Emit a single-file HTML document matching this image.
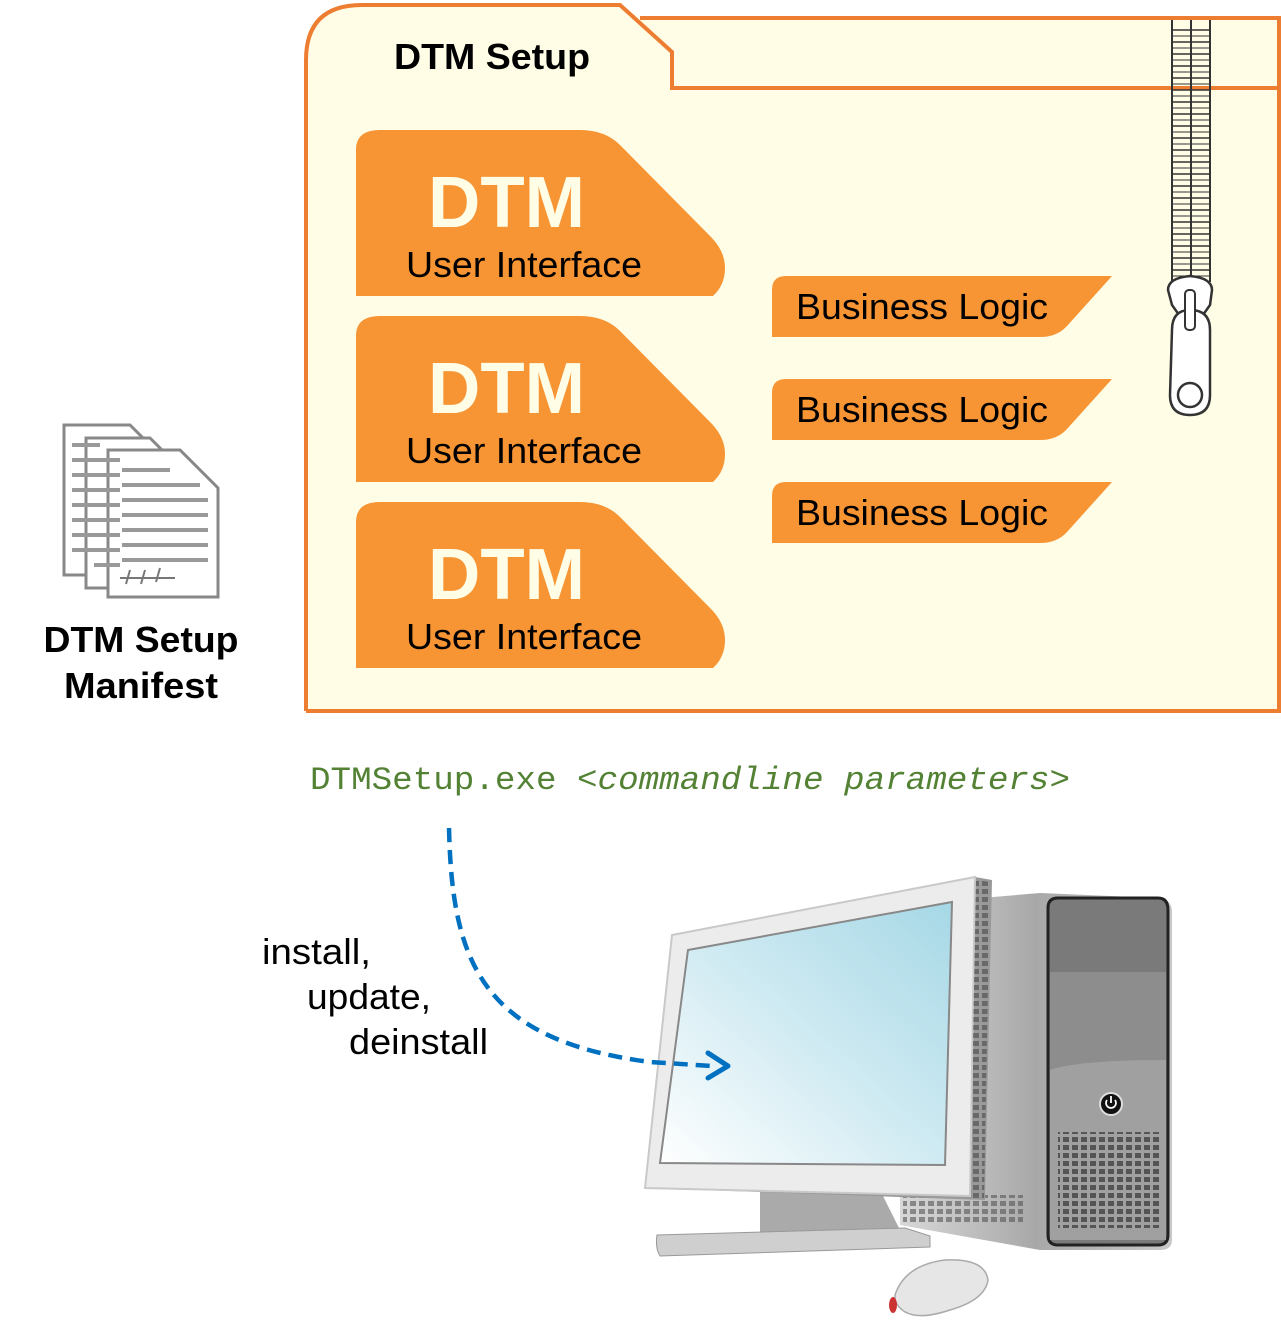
<!DOCTYPE html>
<html><head><meta charset="utf-8"><style>
html,body{margin:0;padding:0;background:#fff;}
svg{display:block}
text{font-family:"Liberation Sans",Arial,sans-serif}
</style></head><body>
<svg width="1281" height="1324" viewBox="0 0 1281 1324" xmlns="http://www.w3.org/2000/svg">
<defs>
<linearGradient id="scr" x1="0" y1="1" x2="1" y2="0"><stop offset="0" stop-color="#ffffff"/><stop offset="0.5" stop-color="#cfeaf2"/><stop offset="1" stop-color="#a6d8e6"/></linearGradient>
<linearGradient id="tow" x1="0" y1="0" x2="1" y2="0"><stop offset="0" stop-color="#d8d8d8"/><stop offset="0.5" stop-color="#a8a8a8"/><stop offset="1" stop-color="#c8c8c8"/></linearGradient>
<pattern id="holes" width="9" height="8" patternUnits="userSpaceOnUse"><rect x="1" y="1" width="6" height="5" fill="#555"/></pattern>
</defs>
<!-- folder -->
<path d="M306,711 L306,60 Q306,5 362,5 L620,5 L640,18 L1279,18 L1279,711 Z" fill="#fffde6" stroke="none"/>
<path d="M306,711 L306,60 Q306,5 362,5 L620,5 L672,52 L672,88 L1279,88" fill="none" stroke="#ed7d31" stroke-width="4"/>
<path d="M640,18 L1279,18 L1279,711 L306,711" fill="none" stroke="#ed7d31" stroke-width="4"/>
<text x="394" y="69" font-size="36" font-weight="bold" fill="#000" textLength="196" lengthAdjust="spacingAndGlyphs">DTM Setup</text>

<!-- UI shapes -->
<g id="ui">
<path d="M356,296 L356,150 Q356,130 380,130 L580,130 Q605,130 620,145 L712,238 Q725,252 725,268 Q725,285 713,296 Z" fill="#f79433"/>
<text x="428" y="227" font-size="72" font-weight="bold" fill="#fffde6" textLength="157" lengthAdjust="spacingAndGlyphs">DTM</text>
<text x="406" y="277" font-size="36" fill="#000" textLength="236" lengthAdjust="spacingAndGlyphs">User Interface</text>
</g>
<use href="#ui" y="186"/>
<use href="#ui" y="372"/>

<!-- Business logic -->
<g id="bl">
<path d="M772,337 L772,290 Q772,276 786,276 L1112,276 L1067,326 Q1057,337 1040,337 Z" fill="#f79433"/>
<text x="796" y="319" font-size="36" fill="#000" textLength="252" lengthAdjust="spacingAndGlyphs">Business Logic</text>
</g>
<use href="#bl" y="103"/>
<use href="#bl" y="206"/>

<!-- zipper -->
<g fill="none" stroke="#333" stroke-width="2">
<path d="M1172,20 V282 M1210,20 V282 M1191,20 V282"/>
<path d="M1172,30 H1210 M1172,42 H1210 M1172,54 H1210 M1172,66 H1210 M1172,78 H1210 M1172,90 H1210 M1172,102 H1210 M1172,114 H1210 M1172,126 H1210 M1172,138 H1210 M1172,150 H1210 M1172,162 H1210 M1172,174 H1210 M1172,186 H1210 M1172,198 H1210 M1172,210 H1210 M1172,222 H1210 M1172,234 H1210 M1172,246 H1210 M1172,258 H1210 M1172,270 H1210" stroke-width="1.5"/>
<path d="M1172,36 H1210 M1172,48 H1210 M1172,60 H1210 M1172,72 H1210 M1172,84 H1210 M1172,96 H1210 M1172,108 H1210 M1172,120 H1210 M1172,132 H1210 M1172,144 H1210 M1172,156 H1210 M1172,168 H1210 M1172,180 H1210 M1172,192 H1210 M1172,204 H1210 M1172,216 H1210 M1172,228 H1210 M1172,240 H1210 M1172,252 H1210 M1172,264 H1210 M1172,276 H1210" stroke-width="1"/>
</g>
<path d="M1168,290 Q1168,278 1190,276 Q1212,278 1212,290 L1210,305 L1198,322 L1184,322 L1172,305 Z" fill="#fff" stroke="#333" stroke-width="2.5"/>
<path d="M1172,330 Q1172,310 1190,310 Q1210,310 1210,330 L1210,395 Q1210,415 1190,415 Q1170,415 1170,395 Z" fill="#fff" stroke="#333" stroke-width="2.5"/>
<circle cx="1190" cy="395" r="12" fill="#fff" stroke="#333" stroke-width="2.5"/>
<rect x="1185" y="290" width="10" height="40" rx="4" fill="#fff" stroke="#333" stroke-width="2"/>

<!-- manifest icon -->
<g fill="#fff" stroke="#888" stroke-width="3">
<path d="M64,425 L130,425 L150,445 L150,575 L64,575 Z"/>
<path d="M86,438 L150,438 L170,458 L170,588 L86,588 Z"/>
<path d="M108,450 L180,450 L218,488 L218,597 L108,597 Z"/>
</g>
<g stroke="#999" stroke-width="4">
<path d="M72,445 H100 M72,460 H100 M72,475 H100 M72,490 H100 M72,505 H100 M72,520 H100 M72,535 H100 M72,550 H100"/>
<path d="M94,460 H120 M94,475 H120 M94,490 H120 M94,505 H120 M94,520 H120 M94,535 H120 M94,550 H120 M94,565 H120"/>
<path d="M122,470 H170 M122,485 H200 M122,500 H208 M122,515 H208 M122,530 H208 M122,545 H208 M122,560 H208"/>
</g>
<path d="M120,578 H175 M130,570 l-4,14 M145,570 l-4,14 M160,568 l-4,14" stroke="#777" stroke-width="2" fill="none"/>
<text x="141" y="652" font-size="36" font-weight="bold" text-anchor="middle" textLength="195" lengthAdjust="spacingAndGlyphs">DTM Setup</text>
<text x="141" y="698" font-size="36" font-weight="bold" text-anchor="middle" textLength="154" lengthAdjust="spacingAndGlyphs">Manifest</text>

<!-- command -->
<text x="310" y="789" font-size="32" fill="#548235" style="font-family:'Liberation Mono',monospace" textLength="760" lengthAdjust="spacingAndGlyphs">DTMSetup.exe <tspan font-style="italic">&lt;commandline parameters&gt;</tspan></text>

<!-- labels -->
<text x="262" y="964" font-size="36" textLength="109" lengthAdjust="spacingAndGlyphs">install,</text>
<text x="307" y="1009" font-size="36" textLength="124" lengthAdjust="spacingAndGlyphs">update,</text>
<text x="349" y="1054" font-size="36" textLength="139" lengthAdjust="spacingAndGlyphs">deinstall</text>

<!-- computer tower -->
<path d="M900,905 L1040,893 L1160,898 Q1172,900 1172,912 L1172,1240 Q1172,1250 1160,1250 L1040,1250 L900,1225 Z" fill="url(#tow)"/>
<rect x="903" y="1195" width="120" height="30" fill="url(#holes)" opacity="0.6"/>
<path d="M1048,908 Q1048,898 1058,898 L1158,898 Q1168,898 1168,910 L1168,1235 Q1168,1245 1158,1245 L1058,1245 Q1048,1245 1048,1235 Z" fill="#7a7a7a" stroke="#222" stroke-width="3"/>
<path d="M1050,972 L1166,972 L1166,1062 L1050,1070 Z" fill="#8d8d8d"/>
<path d="M1050,1070 Q1080,1060 1166,1060 L1166,1240 L1050,1240 Z" fill="#a0a0a0"/>
<rect x="1058" y="1132" width="104" height="96" fill="url(#holes)"/>
<circle cx="1111" cy="1104" r="11" fill="#111" stroke="#ddd" stroke-width="2"/>
<path d="M1107,1100 a5,5 0 1,0 8,0 M1111,1096 v7" stroke="#fff" stroke-width="1.8" fill="none"/>
<!-- monitor stand -->
<path d="M760,1190 L880,1190 L900,1230 L760,1240 Z" fill="#aaa"/>
<path d="M657,1235 L905,1228 L930,1236 L930,1247 L660,1256 Q655,1248 657,1235 Z" fill="#cfcfcf" stroke="#999" stroke-width="1"/>
<!-- monitor -->
<path d="M672,935 L975,877 L992,880 L985,1200 L645,1188 Z" fill="#999"/>
<path d="M672,935 L975,877 L970,1196 L645,1188 Z" fill="#ececec" stroke="#c9c9c9" stroke-width="2"/>
<path d="M688,950 L952,902 L945,1165 L660,1163 Z" fill="url(#scr)" stroke="#888" stroke-width="2"/>
<path d="M976,880 L990,882 L984,1200 L970,1198 Z" fill="url(#holes)" opacity="0.7"/>
<!-- mouse -->
<path d="M895,1295 Q905,1265 945,1260 Q985,1258 988,1280 Q985,1300 950,1310 Q905,1325 895,1300 Z" fill="#e6e6e6" stroke="#aaa" stroke-width="1.5"/>
<ellipse cx="893" cy="1305" rx="4" ry="8" fill="#c33"/>

<!-- arrow -->
<path d="M449,828 C452,960 480,1040 650,1062 L712,1066" fill="none" stroke="#0070c0" stroke-width="4.5" stroke-dasharray="14,8"/>
<path d="M708,1053 L728,1066 L708,1078" fill="none" stroke="#0070c0" stroke-width="5" stroke-linecap="round" stroke-linejoin="round"/>
</svg>
</body></html>
